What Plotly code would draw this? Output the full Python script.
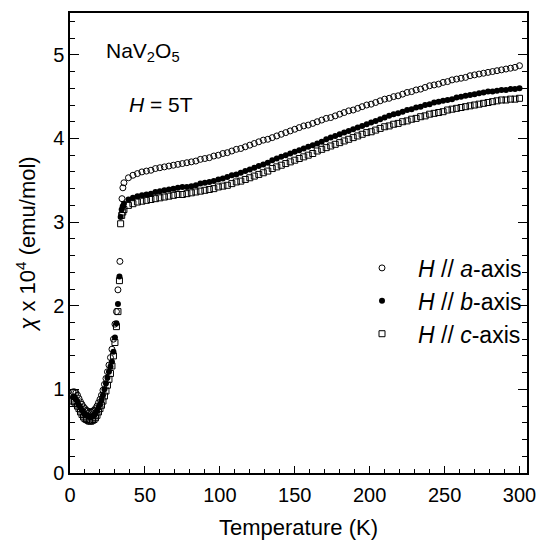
import plotly.graph_objects as go

# ---------------- data ----------------
T_low_a = [2, 3, 4, 5, 6, 7, 8, 9, 10, 11, 12, 13, 14, 15, 16, 17, 18, 19, 20, 21, 22, 23, 24,
           25, 26, 27, 28, 29, 30, 31, 32, 33.3, 34.7, 35.3]
chi_low_a = [0.97, 0.97, 0.96, 0.93, 0.89, 0.85, 0.82, 0.79, 0.77, 0.75, 0.74, 0.73, 0.73, 0.74,
             0.75, 0.77, 0.80, 0.84, 0.88, 0.93, 0.99, 1.06, 1.13, 1.21, 1.29, 1.38, 1.48, 1.60,
             1.78, 1.93, 2.19, 2.53, 3.28, 3.41]

T_low_b = [2, 3, 4, 5, 6, 7, 8, 9, 10, 11, 12, 13, 14, 15, 16, 17, 18, 19, 20, 21, 22, 23, 24,
           25, 26, 27, 28, 29, 30, 31, 32, 33, 33.8, 34.5, 35.2]
chi_low_b = [0.91, 0.90, 0.88, 0.85, 0.81, 0.78, 0.75, 0.72, 0.70, 0.69, 0.68, 0.67, 0.67, 0.68,
             0.69, 0.71, 0.74, 0.78, 0.82, 0.87, 0.93, 1.00, 1.07, 1.14, 1.21, 1.27, 1.33, 1.45,
             1.62, 1.79, 2.02, 2.35, 3.06, 3.15, 3.19]

T_low_c = [2, 3, 4, 5, 6, 7, 8, 9, 10, 11, 12, 13, 14, 15, 16, 17, 18, 19, 20, 21, 22, 23, 24,
           25, 26, 27, 28, 29, 30, 31, 32, 33, 33.8, 34.5, 35.2]
chi_low_c = [0.86, 0.85, 0.83, 0.80, 0.77, 0.73, 0.70, 0.67, 0.65, 0.64, 0.63, 0.62, 0.62, 0.63,
             0.64, 0.66, 0.69, 0.73, 0.77, 0.81, 0.86, 0.92, 0.98, 1.05, 1.12, 1.19, 1.28, 1.40,
             1.56, 1.75, 1.93, 2.30, 2.98, 3.08, 3.12]

T_high = [36, 39, 42, 45, 48, 51, 54, 57, 60, 63, 66, 69, 72, 75, 78, 81, 84, 87, 90, 93, 96, 99,
          102, 105, 108, 111, 114, 117, 120, 123, 126, 129, 132, 135, 138, 141, 144, 147, 150,
          153, 156, 159, 162, 165, 168, 171, 174, 177, 180, 183, 186, 189, 192, 195, 198, 201,
          204, 207, 210, 213, 216, 219, 222, 225, 228, 231, 234, 237, 240, 243, 246, 249, 252,
          255, 258, 261, 264, 267, 270, 273, 276, 279, 282, 285, 288, 291, 294, 297, 300]

chi_high_a = [3.47, 3.53, 3.56, 3.58, 3.60, 3.61, 3.62, 3.64, 3.65, 3.66, 3.67, 3.68, 3.69, 3.70,
              3.71, 3.72, 3.73, 3.75, 3.76, 3.77, 3.79, 3.80, 3.82, 3.83, 3.85, 3.87, 3.88, 3.90,
              3.92, 3.94, 3.96, 3.98, 3.99, 4.01, 4.03, 4.05, 4.07, 4.09, 4.11, 4.13, 4.15, 4.16,
              4.18, 4.20, 4.22, 4.24, 4.25, 4.27, 4.29, 4.31, 4.33, 4.34, 4.36, 4.38, 4.40, 4.41,
              4.43, 4.45, 4.47, 4.48, 4.50, 4.51, 4.53, 4.55, 4.56, 4.58, 4.59, 4.61, 4.63, 4.64,
              4.65, 4.67, 4.68, 4.70, 4.71, 4.72, 4.73, 4.75, 4.76, 4.77, 4.78, 4.79, 4.80, 4.81,
              4.82, 4.83, 4.84, 4.85, 4.87]

chi_high_b = [3.22, 3.27, 3.29, 3.31, 3.32, 3.33, 3.34, 3.36, 3.37, 3.38, 3.39, 3.40, 3.41, 3.42,
              3.42, 3.43, 3.44, 3.46, 3.47, 3.48, 3.49, 3.51, 3.52, 3.54, 3.56, 3.57, 3.59, 3.61,
              3.63, 3.65, 3.67, 3.69, 3.71, 3.74, 3.76, 3.78, 3.80, 3.82, 3.84, 3.86, 3.88, 3.90,
              3.92, 3.94, 3.96, 3.99, 4.01, 4.03, 4.05, 4.07, 4.09, 4.11, 4.13, 4.15, 4.17, 4.19,
              4.21, 4.23, 4.25, 4.27, 4.29, 4.30, 4.32, 4.34, 4.35, 4.37, 4.38, 4.40, 4.41, 4.43,
              4.44, 4.45, 4.46, 4.47, 4.49, 4.50, 4.51, 4.52, 4.53, 4.54, 4.55, 4.56, 4.56, 4.57,
              4.58, 4.58, 4.59, 4.59, 4.60]

chi_high_c = [3.15, 3.20, 3.22, 3.24, 3.25, 3.26, 3.27, 3.28, 3.29, 3.30, 3.31, 3.32, 3.33, 3.33,
              3.34, 3.35, 3.36, 3.37, 3.38, 3.39, 3.40, 3.42, 3.43, 3.44, 3.46, 3.48, 3.49, 3.51,
              3.53, 3.55, 3.57, 3.59, 3.61, 3.64, 3.66, 3.68, 3.70, 3.72, 3.74, 3.76, 3.78, 3.80,
              3.82, 3.85, 3.87, 3.89, 3.91, 3.93, 3.95, 3.97, 3.99, 4.01, 4.03, 4.05, 4.07, 4.08,
              4.10, 4.12, 4.14, 4.15, 4.17, 4.18, 4.20, 4.21, 4.23, 4.24, 4.26, 4.27, 4.29, 4.30,
              4.31, 4.32, 4.34, 4.35, 4.36, 4.37, 4.38, 4.39, 4.40, 4.41, 4.42, 4.43, 4.44, 4.45,
              4.46, 4.46, 4.47, 4.47, 4.48]

series_names = ["<i>H</i> // <i>a</i>-axis", "<i>H</i> // <i>b</i>-axis", "<i>H</i> // <i>c</i>-axis"]
x_ticks = [0, 50, 100, 150, 200, 250, 300]
y_ticks = [0, 1, 2, 3, 4, 5]

FONT = "Arial, Liberation Sans, sans-serif"

fig = go.Figure()

styles = [
    dict(symbol="circle-open", size=6, color="black", line=dict(width=1, color="black")),
    dict(symbol="circle", size=6, color="black"),
    dict(symbol="square-open", size=6, color="black", line=dict(width=1, color="black")),
]
data = [
    (T_low_a + T_high, chi_low_a + chi_high_a),
    (T_low_b + T_high, chi_low_b + chi_high_b),
    (T_low_c + T_high, chi_low_c + chi_high_c),
]
for (xs, ys), name, st in zip(data, series_names, styles):
    fig.add_trace(go.Scatter(x=xs, y=ys, mode="markers", name=name, marker=st))

axis_common = dict(
    showline=True, linecolor="black", linewidth=1.5, ticks="inside", tickcolor="black",
    showgrid=False, zeroline=False, automargin=False,
    tickfont=dict(family=FONT, size=20, color="black"),
)
fig.update_xaxes(
    **axis_common, range=[0, 305], tickvals=x_ticks, ticklen=7, tickwidth=1,
    mirror=True, ticklabelstandoff=3,
    minor=dict(dtick=10, ticks="inside", ticklen=4, tickcolor="black", showgrid=False),
    title=dict(text="Temperature (K)", font=dict(family=FONT, size=22, color="black"), standoff=15),
)
fig.update_yaxes(
    **axis_common, range=[0, 5.5], tickvals=y_ticks, ticklen=9, tickwidth=1,
    mirror="allticks",
    minor=dict(dtick=0.2, ticks="inside", ticklen=5, tickcolor="black", showgrid=False),
    title=dict(text="<i>χ</i> x 10<sup>4</sup> (emu/mol)",
               font=dict(family=FONT, size=22, color="black"), standoff=11),
)

fig.add_annotation(x=0.075, y=0.915, xref="paper", yref="paper", xanchor="left", yanchor="middle",
                   text="NaV<sub>2</sub>O<sub>5</sub>", showarrow=False,
                   font=dict(family=FONT, size=21, color="black"))
fig.add_annotation(x=0.125, y=0.80, xref="paper", yref="paper", xanchor="left", yanchor="middle",
                   text="<i>H</i> = 5T", showarrow=False,
                   font=dict(family=FONT, size=21, color="black"))

fig.update_layout(
    width=539, height=543,
    margin=dict(l=70, r=12, t=13, b=70),
    paper_bgcolor="white", plot_bgcolor="white",
    showlegend=True,
    legend=dict(x=1.0, y=0.374, xanchor="right", yanchor="middle", bgcolor="rgba(0,0,0,0)",
                font=dict(family=FONT, size=23, color="black"), itemwidth=62),
)

fig.write_html("out.html", config={"displayModeBar": False},
               post_script="document.body.style.margin='0';")
